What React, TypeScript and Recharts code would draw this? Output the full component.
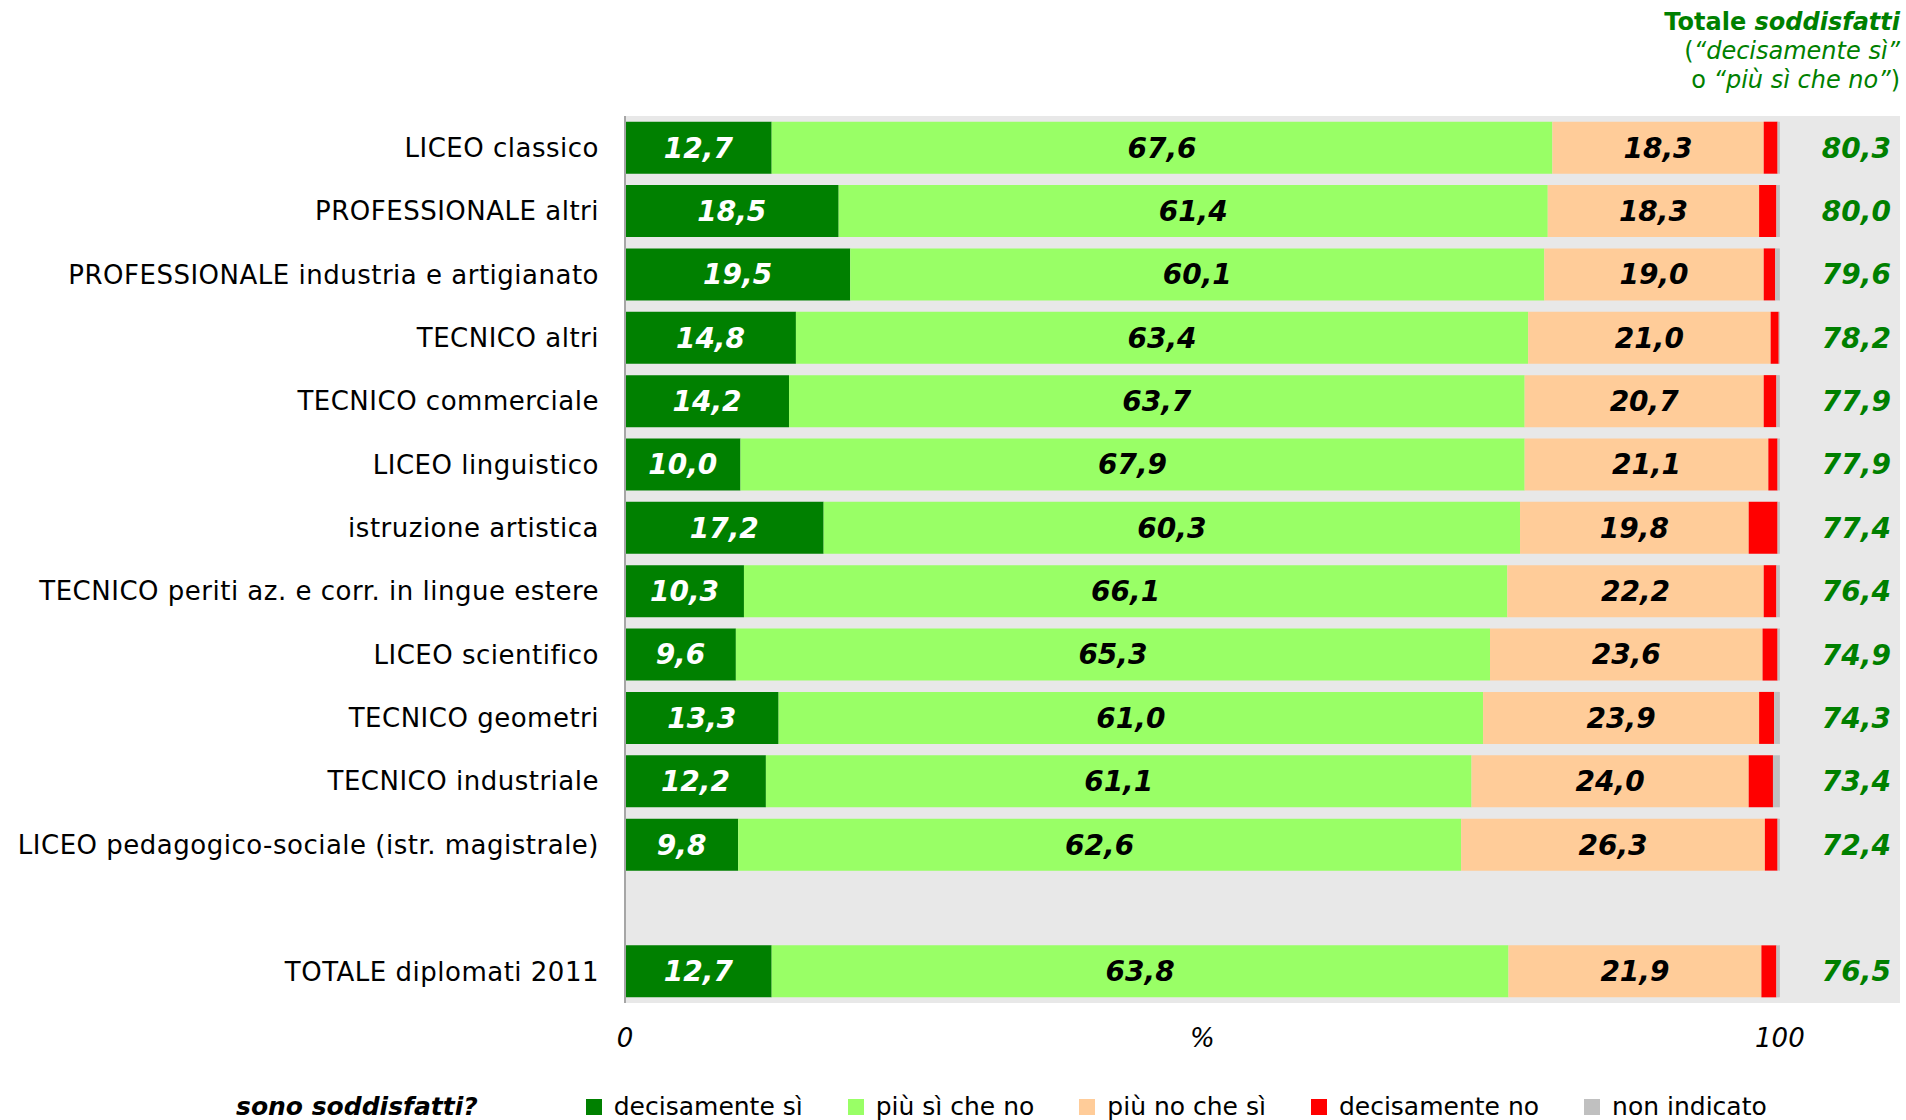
import React from 'react';
import { BarChart, Bar, XAxis, YAxis, ReferenceArea, LabelList } from 'recharts';

const categorie = [
  'LICEO classico',
  'PROFESSIONALE altri',
  'PROFESSIONALE industria e artigianato',
  'TECNICO altri',
  'TECNICO commerciale',
  'LICEO linguistico',
  'istruzione artistica',
  'TECNICO periti az. e corr. in lingue estere',
  'LICEO scientifico',
  'TECNICO geometri',
  'TECNICO industriale',
  'LICEO pedagogico-sociale (istr. magistrale)',
  '',
  'TOTALE diplomati 2011',
];

const decisamenteSi = [12.7, 18.5, 19.5, 14.8, 14.2, 10.0, 17.2, 10.3, 9.6, 13.3, 12.2, 9.8, null, 12.7];
const piuSiCheNo = [67.6, 61.4, 60.1, 63.4, 63.7, 67.9, 60.3, 66.1, 65.3, 61.0, 61.1, 62.6, null, 63.8];
const piuNoCheSi = [18.3, 18.3, 19.0, 21.0, 20.7, 21.1, 19.8, 22.2, 23.6, 23.9, 24.0, 26.3, null, 21.9];
const decisamenteNo = [1.2, 1.5, 1.0, 0.7, 1.1, 0.8, 2.5, 1.1, 1.3, 1.3, 2.1, 1.1, null, 1.3];
const nonIndicato = [0.2, 0.3, 0.4, 0.1, 0.3, 0.2, 0.2, 0.3, 0.2, 0.5, 0.6, 0.2, null, 0.3];
const totaleSoddisfatti = [80.3, 80.0, 79.6, 78.2, 77.9, 77.9, 77.4, 76.4, 74.9, 74.3, 73.4, 72.4, null, 76.5];

const xTicks = [0, 50, 100];
const xTickLabels = ['0', '%', '100'];

const serie = [
  { key: 'decisamenteSi', name: 'decisamente sì', color: '#008000', label: '#ffffff' },
  { key: 'piuSiCheNo', name: 'più sì che no', color: '#99ff66', label: '#000000' },
  { key: 'piuNoCheSi', name: 'più no che sì', color: '#ffcc99', label: '#000000' },
  { key: 'decisamenteNo', name: 'decisamente no', color: '#ff0000', label: null },
  { key: 'nonIndicato', name: 'non indicato', color: '#c0c0c0', label: null },
];

const data = categorie.map((name, i) => ({
  name,
  decisamenteSi: decisamenteSi[i],
  piuSiCheNo: piuSiCheNo[i],
  piuNoCheSi: piuNoCheSi[i],
  decisamenteNo: decisamenteNo[i],
  nonIndicato: nonIndicato[i],
  totale: totaleSoddisfatti[i],
}));

const FONT = '"DejaVu Sans", Verdana, sans-serif';
const fmt = (v: any) => (v == null ? '' : Number(v).toFixed(1).replace('.', ','));

const XTick = (props: any) => {
  const { x, y, payload } = props;
  const idx = xTicks.indexOf(payload.value);
  return (
    <text x={x} y={y + 36} textAnchor="middle" fontSize={26} fontStyle="italic" fill="#000" fontFamily={FONT}>
      {xTickLabels[idx]}
    </text>
  );
};

const TotaleLabel = (props: any) => {
  const { x, y, width, height, value } = props;
  if (value == null) return null;
  return (
    <text
      x={x + width + 111}
      y={y + height / 2}
      dy={10}
      textAnchor="end"
      fontSize={28}
      fontWeight="bold"
      fontStyle="italic"
      fill="#008000"
      fontFamily={FONT}
    >
      {fmt(value)}
    </text>
  );
};

export default function App() {
  return (
    <div style={{ position: 'absolute', left: 0, top: 0, width: 1906, height: 1120, background: '#fff', fontFamily: FONT, overflow: 'hidden' }}>
      <div style={{ position: 'absolute', right: 6, top: 8, textAlign: 'right', color: '#008000', fontSize: 24, lineHeight: '29px' }}>
        <div style={{ fontWeight: 'bold' }}>
          Totale <span style={{ fontStyle: 'italic' }}>soddisfatti</span>
        </div>
        <div>
          (<span style={{ fontStyle: 'italic' }}>“decisamente sì”</span>
        </div>
        <div>
          o <span style={{ fontStyle: 'italic' }}>“più sì che no”</span>)
        </div>
      </div>

      <BarChart
        width={1906}
        height={1120}
        data={data}
        layout="vertical"
        margin={{ top: 116, right: 6, bottom: 77, left: 0 }}
        barCategoryGap="9%"
        style={{ fontFamily: FONT }}
      >
        <XAxis
          type="number"
          domain={[0, 110.4]}
          ticks={xTicks}
          tick={<XTick />}
          axisLine={false}
          tickLine={false}
          height={40}
          allowDataOverflow
        />
        <YAxis
          type="category"
          dataKey="name"
          width={625}
          axisLine={{ stroke: '#a6a6a6', strokeWidth: 2 }}
          tickLine={false}
          tickMargin={20}
          interval={0}
          tick={{ fontSize: 26, fill: '#000', fontFamily: FONT, letterSpacing: 0.5 }}
        />
        <ReferenceArea x1={0} x2={110.4} fill="#e8e8e8" fillOpacity={1} stroke="none" ifOverflow="extendDomain" />
        {serie.map((s) => (
          <Bar key={s.key} dataKey={s.key} name={s.name} stackId="a" fill={s.color} isAnimationActive={false}>
            {s.label && (
              <LabelList
                dataKey={s.key}
                position="center"
                formatter={fmt}
                fill={s.label}
                fontSize={28}
                fontWeight="bold"
                fontStyle="italic"
                fontFamily={FONT}
              />
            )}
            {s.key === 'nonIndicato' && <LabelList dataKey="totale" content={<TotaleLabel />} />}
          </Bar>
        ))}
      </BarChart>

      <div
        style={{
          position: 'absolute',
          left: 236,
          top: 1092,
          display: 'flex',
          alignItems: 'center',
          fontSize: 25,
          color: '#000',
          whiteSpace: 'nowrap',
        }}
      >
        <span style={{ fontWeight: 'bold', fontStyle: 'italic', fontSize: 25, marginRight: 108 }}>sono soddisfatti?</span>
        {serie.map((s) => (
          <span key={s.key} style={{ display: 'flex', alignItems: 'center', marginRight: 45 }}>
            <span style={{ width: 16, height: 16, background: s.color, display: 'inline-block', marginRight: 12 }} />
            {s.name}
          </span>
        ))}
      </div>
    </div>
  );
}
